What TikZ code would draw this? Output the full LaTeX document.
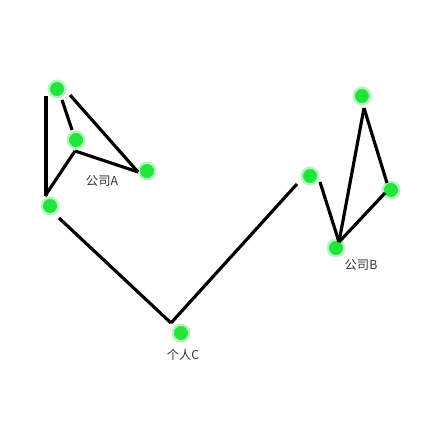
\documentclass[tikz,border=0pt]{standalone}
\usepackage{fontspec}
\newfontfamily\cjk{Noto Sans CJK SC}
\usepackage{tikz}
\definecolor{dotGreen}{RGB}{34,228,60}

\begin{document}
\begin{tikzpicture}
[dotDecorate/.style={shape=circle,inner sep=0pt,minimum size=0.33cm,fill=dotGreen,draw=dotGreen!35,line width=1.3pt},%
    labelDecorate/.style={inner sep=0pt,font=\cjk\fontsize{7}{8}\selectfont,text=black!80},%
    lineDecorate/.style={black,line width=1.8pt},%
    x=0.02cm,y=-0.02cm]
    \useasboundingbox (0,0) rectangle (425,425);
    %% green dots
    \foreach \nodename/\x/\y in {a1/57/89, a2/76/140, a3/147/171, a4/50/206, b1/362/96, b2/310/176, b3/391/190, b4/336/248, c/181/333}
    {
        \node (\nodename) at (\x,\y) [dotDecorate] {};
    }
    %% labels
    \node (labA) at (102,181) [labelDecorate] {公司A};
    \node (labB) at (361,265) [labelDecorate] {公司B};
    \node (labC) at (183,355) [labelDecorate] {个人C};
    %% edges or lines
    \path\foreach \startnode/\sx/\sy/\endnode/\ex/\ey in {a1/-11/7/a4/-4/-10, a1/5/11/a2/-4/-10, a1/13/6/a3/-9/1, a2/-1/11/a3/-9/1, a2/-1/11/a4/-5/-10, a4/9/12/c/-10/-10, c/-10/-10/b2/-13/8, b2/10/6/b4/3/-6, b4/3/-6/b1/2/12, b1/2/12/b3/-4/-7, b3/-6/3/b4/3/-6}
    {
        ([shift={(\sx,\sy)}]\startnode.center) edge[lineDecorate] ([shift={(\ex,\ey)}]\endnode.center)
    };
\end{tikzpicture}
\end{document}
